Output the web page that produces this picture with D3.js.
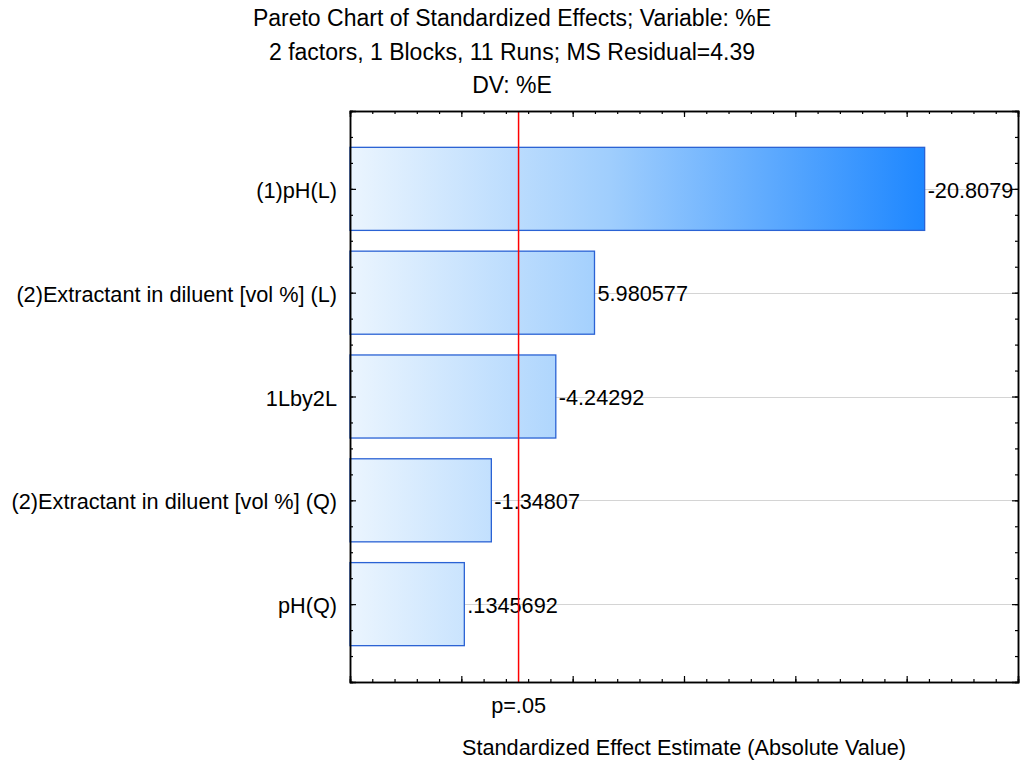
<!DOCTYPE html>
<html>
<head>
<meta charset="utf-8">
<script src="https://cdn.jsdelivr.net/npm/d3@7/dist/d3.min.js"></script>
<style>
  html, body { margin: 0; padding: 0; background: #fff; }
  svg { display: block; }
  text { font-family: "Liberation Sans", Arial, sans-serif; fill: #000; }
</style>
</head>
<body>
<script>
// Effects, ordered by size, with their signed standardized estimates
const effects = ["(1)pH(L)", "(2)Extractant in diluent [vol %] (L)", "1Lby2L",
                 "(2)Extractant in diluent [vol %] (Q)", "pH(Q)"];
const estimates = [-20.8079, 5.980577, -4.24292, -1.34807, 0.1345692];
const estimateLabels = ["-20.8079", "5.980577", "-4.24292", "-1.34807", ".1345692"];
const titleLines = ["Pareto Chart of Standardized Effects; Variable: %E",
                    "2 factors, 1 Blocks, 11 Runs; MS Residual=4.39",
                    "DV: %E"];
const xDomain = [-5, 25];
const criticalT = 2.570582;   // t(5), p = .05
const criticalLabel = "p=.05";
const xTitle = "Standardized Effect Estimate (Absolute Value)";

const W = 1024, H = 762;
const plotL = 350, plotR = 1018, plotT = 111, plotB = 682;
const fs = 21.7;

const svg = d3.select("body").append("svg").attr("width", W).attr("height", H);

const x = d3.scaleLinear().domain(xDomain).range([plotL, plotR]);
const y = d3.scaleLinear().domain([0.25, effects.length + 0.75]).range([plotT, plotB]);
const step = y(2) - y(1);
const barH = step * 0.8;

// Horizontal gradient across the plot for the bars
const defs = svg.append("defs");
const grad = defs.append("linearGradient")
  .attr("id", "barFill").attr("gradientUnits", "userSpaceOnUse")
  .attr("x1", plotL).attr("x2", x(d3.max(estimates, d => Math.abs(d))))
  .attr("y1", 0).attr("y2", 0);
grad.append("stop").attr("offset", 0).attr("stop-color", "#ebf5fe");
grad.append("stop").attr("offset", 0.45).attr("stop-color", "#a0cefd");
grad.append("stop").attr("offset", 1).attr("stop-color", "#1e87ff");

// Titles
svg.append("g").selectAll("text").data(titleLines).join("text")
  .attr("x", 512).attr("y", (d, i) => 26 + i * 33.7)
  .attr("text-anchor", "middle").attr("font-size", 23).text(d => d);

// Gridlines at each effect
svg.append("g").selectAll("line").data(effects).join("line")
  .attr("x1", plotL).attr("x2", plotR)
  .attr("y1", (d, i) => Math.round(y(i + 1)) + 0.5)
  .attr("y2", (d, i) => Math.round(y(i + 1)) + 0.5)
  .attr("stroke", "#d4d4d4").attr("stroke-width", 1);

// Bars from the left edge to the absolute effect
svg.append("g").selectAll("rect").data(estimates).join("rect")
  .attr("x", plotL)
  .attr("y", (d, i) => y(i + 1) - barH / 2)
  .attr("width", d => x(Math.abs(d)) - plotL)
  .attr("height", barH)
  .attr("fill", "url(#barFill)")
  .attr("stroke", "#2a62d4").attr("stroke-width", 1.3);

// Value labels
svg.append("g").selectAll("text").data(estimates).join("text")
  .attr("x", d => x(Math.abs(d)) + 3)
  .attr("y", (d, i) => y(i + 1))
  .attr("dy", "0.4em")
  .attr("font-size", fs)
  .text((d, i) => estimateLabels[i]);

// Critical value line
svg.append("line")
  .attr("x1", x(criticalT)).attr("x2", x(criticalT))
  .attr("y1", plotT).attr("y2", plotB)
  .attr("stroke", "#ff0000").attr("stroke-width", 1.5);

// Frame axes with inward ticks
const majorX = d3.range(xDomain[0], xDomain[1] + 0.001, 5);
const minorX = d3.range(xDomain[0], xDomain[1] + 0.001, 1);
const minorY = d3.range(0.25, effects.length + 0.75 + 0.001, 0.25);
const yIdx = d3.range(1, effects.length + 1);

function draw(axis, tx, ty) {
  const g = svg.append("g").attr("transform", `translate(${tx},${ty})`).call(axis);
  g.selectAll(".domain").attr("stroke", "#000").attr("stroke-width", 1.5);
  g.selectAll(".tick line").attr("stroke", "#000").attr("stroke-width", 1.2);
  return g;
}
draw(d3.axisTop(x).tickValues(minorX).tickSize(3).tickFormat(""), 0, plotB);
draw(d3.axisTop(x).tickValues(majorX).tickSize(6).tickFormat(""), 0, plotB);
draw(d3.axisBottom(x).tickValues(minorX).tickSize(3).tickFormat(""), 0, plotT);
draw(d3.axisBottom(x).tickValues(majorX).tickSize(6).tickFormat(""), 0, plotT);
draw(d3.axisRight(y).tickValues(minorY).tickSize(3).tickFormat(""), plotL, 0);
draw(d3.axisRight(y).tickValues(yIdx).tickSize(6).tickFormat(""), plotL, 0);
draw(d3.axisLeft(y).tickValues(minorY).tickSize(3).tickFormat(""), plotR, 0);
draw(d3.axisLeft(y).tickValues(yIdx).tickSize(6).tickFormat(""), plotR, 0);

// Effect names
svg.append("g").selectAll("text").data(effects).join("text")
  .attr("x", plotL - 13).attr("y", (d, i) => y(i + 1))
  .attr("dy", "0.42em").attr("text-anchor", "end")
  .attr("font-size", fs).text(d => d);

// Critical value label and axis title
svg.append("text").attr("x", x(criticalT)).attr("y", 713)
  .attr("text-anchor", "middle").attr("font-size", fs).text(criticalLabel);
svg.append("text").attr("x", (plotL + plotR) / 2).attr("y", 755)
  .attr("text-anchor", "middle").attr("font-size", fs).text(xTitle);
</script>
</body>
</html>
